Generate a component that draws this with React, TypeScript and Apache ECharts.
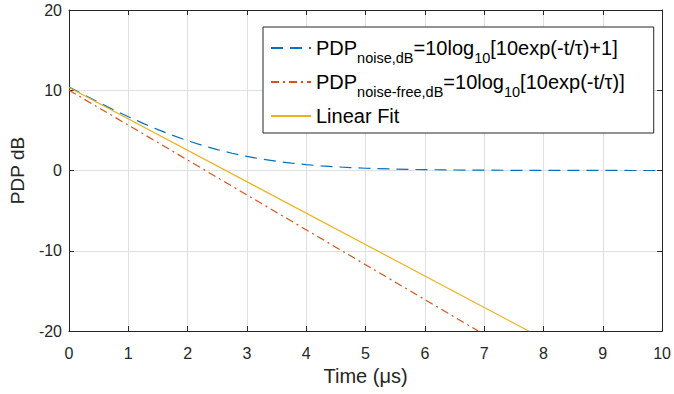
import React, { useEffect, useRef } from "react";
import * as echarts from "echarts";

// Time samples (μs) and the noisy PDP curve (dB)
const timeUs = [0, 0.25, 0.5, 0.75, 1, 1.25, 1.5, 1.75, 2, 2.25, 2.5, 2.75, 3, 3.25, 3.5, 3.75, 4, 4.25, 4.5, 4.75, 5, 5.5, 6, 6.5, 7, 7.5, 8, 8.5, 9, 9.5, 10];
const pdpNoiseDb = [10.414, 9.439, 8.491, 7.577, 6.701, 5.872, 5.093, 4.374, 3.717, 3.126, 2.603, 2.146, 1.755, 1.423, 1.146, 0.917, 0.73, 0.579, 0.457, 0.36, 0.283, 0.174, 0.106, 0.065, 0.039, 0.024, 0.015, 0.009, 0.005, 0.003, 0.002];

// Noise-free PDP (straight line in dB)
const freeTime = [0, 6.9];
const freeDb = [10, -20];

// Linear fit
const fitTime = [0, 7.75];
const fitDb = [10.35, -20];

// Axis ranges
const xMin = 0, xMax = 10, xStep = 1;
const yMin = -20, yMax = 20, yStep = 10;

const seriesNames = ["noise", "free", "fit"];
const legendLabels: Record<string, string> = {
  noise: "{m|PDP}{s|noise,dB}{m|=10log}{s|10}{m|[10exp(-t/τ)+1]}",
  free: "{m|PDP}{s|noise-free,dB}{m|=10log}{s|10}{m|[10exp(-t/τ)]}",
  fit: "{m|Linear Fit}{s|\u00a0}",
};

const FONT = "'Liberation Sans', Arial, Helvetica, sans-serif";
const AX = "#262626";
const GRID = "#dfdfdf";

const zip = (xs: number[], ys: number[]) => xs.map((x, i) => [x, ys[i]]);

export default function App() {
  const ref = useRef<HTMLDivElement>(null);
  useEffect(() => {
    if (!ref.current) return;
    const chart = echarts.init(ref.current, undefined, { renderer: "svg" });
    const baseX = {
      type: "value" as const,
      min: xMin,
      max: xMax,
      interval: xStep,
      axisLine: { show: true, onZero: false, lineStyle: { color: AX, width: 1 } },
      axisTick: { show: true, inside: true, length: 5, lineStyle: { color: AX } },
    };
    const baseY = {
      type: "value" as const,
      min: yMin,
      max: yMax,
      interval: yStep,
      axisLine: { show: true, onZero: false, lineStyle: { color: AX, width: 1 } },
      axisTick: { show: true, inside: true, length: 5, lineStyle: { color: AX } },
    };
    chart.setOption({
      animation: false,
      backgroundColor: "#fff",
      textStyle: { fontFamily: FONT },
      grid: { left: 67, right: 10, top: 10, bottom: 63, containLabel: false },
      xAxis: [
        {
          ...baseX,
          position: "bottom",
          name: "Time (μs)",
          nameLocation: "middle",
          nameGap: 35,
          nameTextStyle: { fontSize: 20, color: AX, fontFamily: FONT },
          axisLabel: { fontSize: 16, color: AX, margin: 14, fontFamily: FONT },
          splitLine: { show: true, lineStyle: { color: GRID, width: 1 } },
        },
        {
          ...baseX,
          position: "top",
          axisLabel: { show: false },
          splitLine: { show: false },
        },
      ],
      yAxis: [
        {
          ...baseY,
          position: "left",
          name: "PDP dB",
          nameLocation: "middle",
          nameRotate: 90,
          nameGap: 42,
          nameTextStyle: { fontSize: 19, color: AX, fontFamily: FONT },
          axisLabel: { fontSize: 16, color: AX, margin: 7, fontFamily: FONT },
          splitLine: { show: true, lineStyle: { color: GRID, width: 1 } },
        },
        {
          ...baseY,
          position: "right",
          axisLabel: { show: false },
          splitLine: { show: false },
        },
      ],
      legend: {
        orient: "vertical",
        left: 263,
        top: 27,
        padding: [4, 29, 0, 7],
        itemGap: 0,
        itemWidth: 40,
        itemHeight: 14,
        backgroundColor: "#fff",
        borderColor: AX,
        borderWidth: 1,
        borderRadius: 0,
        itemStyle: { opacity: 0 },
        data: seriesNames,
        formatter: (name: string) => legendLabels[name],
        textStyle: {
          fontFamily: FONT,
          color: "#000",
          fontSize: 20,
          rich: {
            m: { fontSize: 20, lineHeight: 35, color: "#000", fontFamily: FONT },
            s: { fontSize: 14.5, lineHeight: 16, padding: [19, 0, 0, 0], color: "#000", fontFamily: FONT },
          },
        },
      },
      series: [
        {
          name: "noise",
          type: "line",
          data: zip(timeUs, pdpNoiseDb),
          showSymbol: false,
          symbol: "none",
          smooth: false,
          lineStyle: { color: "#0072BD", width: 1.2, type: [12, 7] },
          itemStyle: { color: "#0072BD" },
        },
        {
          name: "free",
          type: "line",
          data: zip(freeTime, freeDb),
          showSymbol: false,
          symbol: "none",
          lineStyle: { color: "#D95319", width: 1.2, type: [8, 4, 2, 4] },
          itemStyle: { color: "#D95319" },
        },
        {
          name: "fit",
          type: "line",
          data: zip(fitTime, fitDb),
          showSymbol: false,
          symbol: "none",
          lineStyle: { color: "#EDB120", width: 1.2, type: "solid" },
          itemStyle: { color: "#EDB120" },
        },
      ],
    });
    return () => chart.dispose();
  }, []);
  return <div ref={ref} style={{ position: "absolute", left: 0, top: 0, width: 674, height: 394 }} />;
}
